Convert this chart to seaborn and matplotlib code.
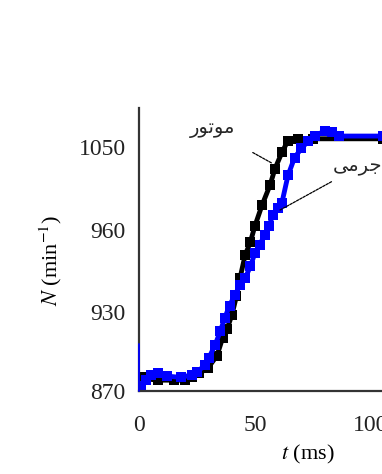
import matplotlib
matplotlib.use("Agg")
import matplotlib.pyplot as plt
import seaborn as sns

# time axis (ms) and speed (min^-1)
t_motor = [0, 1, 3, 8, 15, 20, 23, 26, 29.7, 33.6, 36, 38, 40, 42, 43.5,
           45.7, 48, 50, 53, 56.5, 58.6, 61.6, 64, 68.5, 75, 105]
n_motor = [870, 880, 879, 878, 878, 878, 880, 883, 887, 896, 909, 916, 926,
           940, 953, 970, 980, 992, 1007, 1022, 1034, 1046, 1054, 1056, 1056, 1056]

t_mass = [0, 1, 3, 5, 8, 12, 18, 22.8, 25, 28.4, 30, 32.8, 35, 37, 39, 41.4,
          43.5, 45.7, 48, 50, 52, 54.3, 56, 57.8, 60, 61.6, 64.2, 67, 70,
          72.8, 76, 80, 83, 86, 105]
n_mass = [870, 874, 878, 882, 883, 881, 880, 882, 884, 889, 894, 904, 914,
          924, 933, 941, 948, 953, 962, 972, 978, 985, 992, 1000, 1005, 1009,
          1029, 1042, 1049, 1054, 1058, 1062, 1061, 1058, 1058]

# thin blue spike right at t = 0
t_spike = [0, 0]
n_spike = [870, 905]

x_ticks = [0, 50, 100]
y_ticks = [870, 928, 989, 1050]
y_tick_labels = ["870", "930", "960", "1050"]

# labels in Persian: "motor" and "mass" (pre-shaped, visual order)
label_motor = "\uFEAD\uFEEE\uFE97\uFEEE\uFEE3"   # موتور
label_mass = "\uFBFD\uFEE3\uFEAE\uFE9F"          # جرمی

sns.set_theme(style="white")
plt.rcParams["font.family"] = ["Liberation Serif", "DejaVu Sans"]
plt.rcParams["mathtext.fontset"] = "stix"

fig = plt.figure(figsize=(3.82, 4.74), dpi=100)
ax = fig.add_axes([139 / 382, 83 / 474, 243 / 382, 283 / 474])

sns.lineplot(x=t_motor, y=n_motor, ax=ax, color="black", linewidth=3.5,
             marker="s", markersize=7, markeredgewidth=0,
             estimator=None, sort=False, errorbar=None)
sns.lineplot(x=t_mass, y=n_mass, ax=ax, color="#0000ff", linewidth=3.5,
             marker="s", markersize=7, markeredgewidth=0,
             estimator=None, sort=False, errorbar=None)
ax.plot(t_spike, n_spike, color="#0000ff", linewidth=1.3, zorder=5,
        clip_on=False)

ax.set_xlim(0, 104.7)
ax.set_ylim(870, 1078.7)
ax.set_xticks(x_ticks)
ax.set_xticklabels([str(v) for v in x_ticks])
ax.set_yticks(y_ticks)
ax.set_yticklabels(y_tick_labels)

for side in ["top", "right"]:
    ax.spines[side].set_visible(False)
for side in ["left", "bottom"]:
    ax.spines[side].set_color("#333333")
    ax.spines[side].set_linewidth(1.6)

ax.tick_params(axis="y", direction="out", length=4.5, width=1.3,
               color="#333333", pad=5, labelsize=17, labelcolor="#222222")
ax.tick_params(axis="x", direction="in", length=3, width=1.3,
               color="#333333", pad=17, labelsize=17, labelcolor="#222222")

ax.set_xlabel(r"$t$ (ms)", fontsize=16, color="black")
ax.xaxis.set_label_coords(0.695, -0.185)
ax.set_ylabel(r"$N$ (min$^{-1}$)", fontsize=16, color="black")
ax.yaxis.set_label_coords(-0.31, 0.46)

ax.annotate(label_motor, xy=(57.3, 1038), xytext=(31.5, 1062.5),
            fontsize=14, ha="center", va="center",
            arrowprops=dict(arrowstyle="-", color="black", lw=0.9,
                            linestyle=(0, (2, 1)), shrinkA=16, shrinkB=0))
ax.annotate(label_mass, xy=(60.8, 1003.5), xytext=(83.6, 1035),
            fontsize=14, ha="left", va="center", annotation_clip=False,
            arrowprops=dict(arrowstyle="-", color="black", lw=0.9,
                            linestyle=(0, (2, 1)), shrinkA=4, shrinkB=0))

fig.savefig("out.png", dpi=100)
